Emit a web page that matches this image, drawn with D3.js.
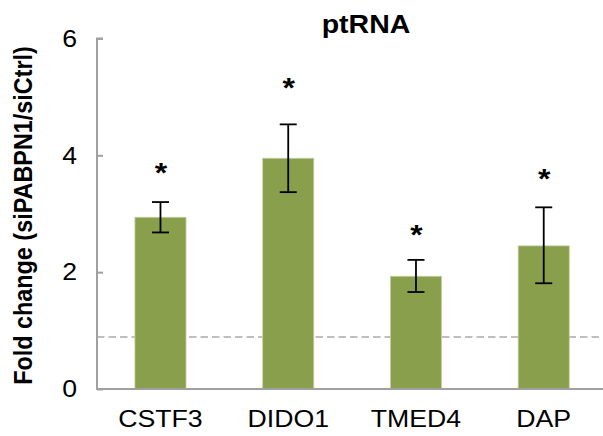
<!DOCTYPE html>
<html>
<head>
<meta charset="utf-8">
<script src="https://cdn.jsdelivr.net/npm/d3@7"></script>
<style>
  body { margin: 0; background: #fff; }
  text { font-family: "Liberation Sans", Arial, sans-serif; }
</style>
</head>
<body>
<svg id="chart" width="603" height="436"></svg>
<script>
// data
const genes = ["CSTF3", "DIDO1", "TMED4", "DAP"];
const foldChange = [2.94, 3.95, 1.93, 2.45];
const errLow = [2.68, 3.37, 1.66, 1.81];
const errHigh = [3.20, 4.53, 2.21, 3.11];
const starAt = [3.81, 5.27, 2.76, 3.72];   // where the * marks sit
const baseline = 0.89;                      // dashed reference line
const yTicks = [0, 2, 4, 6];

const svg = d3.select("#chart");
const stretch = 1.14; // source picture text is a bit wider than tall

const x = d3.scaleBand()
  .domain(genes)
  .range([96.6, 607.6])
  .paddingInner(0.6)
  .paddingOuter(0.3);

const y = d3.scaleLinear()
  .domain([0, 6])
  .range([389, 38.5]);

// dashed line
svg.append("line")
  .attr("x1", 97).attr("x2", 603)
  .attr("y1", y(baseline)).attr("y2", y(baseline))
  .attr("stroke", "#bfbfbf")
  .attr("stroke-width", 2.2)
  .attr("stroke-dasharray", "7.5,4");

// bars
svg.selectAll("rect.bar")
  .data(genes)
  .enter().append("rect")
  .attr("class", "bar")
  .attr("x", d => x(d))
  .attr("width", x.bandwidth())
  .attr("y", (d, i) => y(foldChange[i]))
  .attr("height", (d, i) => y(0) - y(foldChange[i]))
  .attr("fill", "#8a9f4b")
  .attr("stroke", "#c3d1a0")
  .attr("stroke-width", 0.8);

// error bars
const eb = svg.selectAll("g.err")
  .data(genes)
  .enter().append("g")
  .attr("class", "err")
  .attr("transform", d => "translate(" + (x(d) + x.bandwidth() / 2) + ",0)")
  .attr("stroke", "#000")
  .attr("stroke-width", 1.8);

eb.append("line")
  .attr("y1", (d, i) => y(errLow[i]))
  .attr("y2", (d, i) => y(errHigh[i]));
eb.append("line")
  .attr("x1", -8.5).attr("x2", 8.5)
  .attr("y1", (d, i) => y(errLow[i]))
  .attr("y2", (d, i) => y(errLow[i]));
eb.append("line")
  .attr("x1", -8.5).attr("x2", 8.5)
  .attr("y1", (d, i) => y(errHigh[i]))
  .attr("y2", (d, i) => y(errHigh[i]));

// asterisks
svg.selectAll("text.star")
  .data(genes)
  .enter().append("text")
  .attr("class", "star")
  .attr("transform", (d, i) => "translate(" + (x(d) + x.bandwidth() / 2 + 0.5) + "," + (y(starAt[i]) + 16) + ") scale(" + stretch + ",1)")
  .attr("text-anchor", "middle")
  .attr("font-size", 28)
  .attr("font-weight", "bold")
  .text("*");

// y axis (ticks point inward like Excel)
const yAxis = d3.axisRight(y)
  .tickValues(yTicks)
  .tickSize(6)
  .tickFormat("");
const gy = svg.append("g")
  .attr("transform", "translate(97,0)")
  .call(yAxis);
gy.select(".domain").attr("stroke", "#a0a0a0").attr("stroke-width", 2)
  .attr("d", "M6," + y(6) + "H0V" + y(0));
gy.selectAll(".tick line").attr("stroke", "#a0a0a0").attr("stroke-width", 2);

svg.selectAll("text.ytick")
  .data(yTicks)
  .enter().append("text")
  .attr("class", "ytick")
  .attr("transform", d => "translate(77," + (y(d) + 8.3) + ") scale(" + stretch + ",1)")
  .attr("text-anchor", "end")
  .attr("font-size", 23.4)
  .text(d => d);

// x axis
const gx = svg.append("g")
  .attr("transform", "translate(0," + y(0) + ")")
  .call(d3.axisBottom(x).tickSize(0).tickPadding(0));
gx.select(".domain").attr("stroke", "#a0a0a0").attr("stroke-width", 2)
  .attr("d", "M96,0H603");
gx.selectAll(".tick text")
  .attr("font-size", 23.4)
  .attr("fill", "#000")
  .attr("dy", 0)
  .attr("y", 0)
  .attr("transform", "translate(0,38) scale(" + stretch + ",1)")
  .attr("font-family", "Liberation Sans, Arial, sans-serif");

// title
svg.append("text")
  .attr("transform", "translate(366,33) scale(" + stretch + ",1)")
  .attr("text-anchor", "middle")
  .attr("font-size", 25)
  .attr("font-weight", "bold")
  .text("ptRNA");

// y label
svg.append("text")
  .attr("transform", "translate(31.5,215.5) rotate(-90) scale(1," + stretch + ")")
  .attr("text-anchor", "middle")
  .attr("font-size", 23.4)
  .attr("font-weight", "bold")
  .text("Fold change (siPABPN1/siCtrl)");
</script>
</body>
</html>
